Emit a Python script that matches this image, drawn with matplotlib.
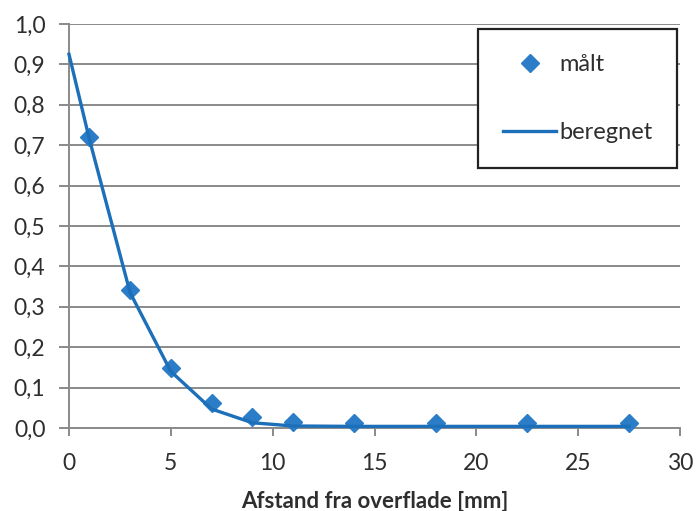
import matplotlib
matplotlib.use("Agg")
import matplotlib.pyplot as plt
from matplotlib.ticker import FuncFormatter

# Measured and calculated values vs. distance from surface
x_maalt = [1, 3, 5, 7, 9, 11, 14, 18, 22.5, 27.5]
y_maalt = [0.72, 0.342, 0.148, 0.061, 0.026, 0.015, 0.013, 0.012, 0.012, 0.013]

x_beregnet = [0, 1, 3, 5, 7, 9, 11, 14, 18, 22.5, 27.5]
y_beregnet = [0.925, 0.715, 0.335, 0.14, 0.047, 0.013, 0.005, 0.004, 0.004, 0.004, 0.004]

x_ticks = [0, 5, 10, 15, 20, 25, 30]
y_ticks = [0.0, 0.1, 0.2, 0.3, 0.4, 0.5, 0.6, 0.7, 0.8, 0.9, 1.0]

plt.rcParams['font.family'] = ['Lato', 'DejaVu Sans']
text_col = '#2e2e2e'
grid_col = '#8a8a8a'

fig = plt.figure(figsize=(6.96, 5.11), dpi=100)
ax = fig.add_axes([69 / 696, 1 - 428 / 511, (680 - 69) / 696, (428 - 24) / 511])

ax.set_xlim(0, 30)
ax.set_ylim(0, 1.0)
ax.set_xticks(x_ticks)
ax.set_yticks(y_ticks)
ax.yaxis.set_major_formatter(FuncFormatter(lambda v, p: f"{v:.1f}".replace('.', ',')))

ax.grid(axis='y', color=grid_col, linewidth=1.4, zorder=0)
ax.set_axisbelow(True)
for s in ['top', 'right']:
    ax.spines[s].set_visible(False)
for s in ['left', 'bottom']:
    ax.spines[s].set_color(grid_col)
    ax.spines[s].set_linewidth(1.4)
ax.spines['bottom'].set_zorder(1)

ax.tick_params(axis='y', length=7, width=1.4, color=grid_col, labelsize=16.5,
               labelcolor=text_col, pad=10)
ax.tick_params(axis='x', length=6, width=1.4, color=grid_col, labelsize=16.5,
               labelcolor=text_col, pad=12)

m, = ax.plot(x_maalt, y_maalt, linestyle='none', marker='D', markersize=9.5,
             color='#2a7dc6', markeredgecolor='#2a7dc6', label='målt', zorder=3,
             clip_on=False)
l, = ax.plot(x_beregnet, y_beregnet, color='#1c6fb9', linewidth=2.4,
             label='beregnet', zorder=4, clip_on=False)

ax.set_xlabel('Afstand fra overflade [mm]', fontsize=16, fontweight='bold',
              color=text_col, labelpad=12)

leg = fig.legend(handles=[m, l], loc='upper left',
                 bbox_to_anchor=(478 / 696, 1 - 29 / 511),
                 fontsize=17, frameon=True, fancybox=False, framealpha=1,
                 edgecolor='#222222', labelspacing=1.98, borderpad=1.06,
                 handlelength=2.25, handletextpad=0.12, borderaxespad=0)
leg.get_frame().set_linewidth(1.6)
for t in leg.get_texts():
    t.set_color(text_col)

fig.savefig('out.png', dpi=100, facecolor='white')
